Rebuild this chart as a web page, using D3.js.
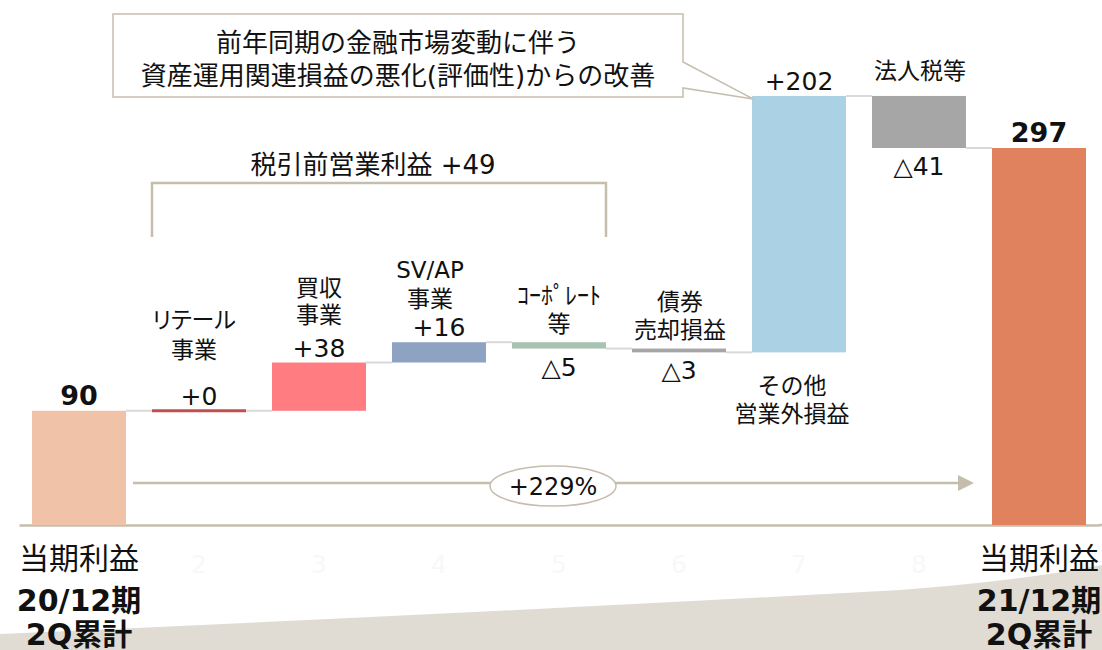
<!DOCTYPE html>
<html>
<head>
<meta charset="utf-8">
<script src="https://cdn.jsdelivr.net/npm/d3@7"></script>
<style>
  html, body { margin: 0; padding: 0; background: #fff; }
  svg { display: block; font-family: "DejaVu Sans", "Noto Sans CJK JP", sans-serif; }
</style>
</head>
<body>
<div id="waterfall"></div>
<script>
// --- data ---
var tickLabels = ["1", "2", "3", "4", "5", "6", "7", "8", "9"];
var barNames = [
    ["当期利益"],
    ["リテール", "事業"],
    ["買収", "事業"],
    ["SV/AP", "事業"],
    ["ｺｰﾎﾟﾚｰﾄ", "等"],
    ["債券", "売却損益"],
    ["その他", "営業外損益"],
    ["法人税等"],
    ["当期利益"]
];
var startPeriod = ["20/12期", "2Q累計"];
var endPeriod = ["21/12期", "2Q累計"];
var barValues = [90, 0, 38, 16, -5, -3, 202, -41, 297];
var barKinds = ["total", "delta", "delta", "delta", "delta", "delta", "delta", "delta", "total"];
var valueLabels = ["90", "+0", "+38", "+16", "△5", "△3", "+202", "△41", "297"];
var subtotalLabel = "税引前営業利益 +49";
var subtotalRange = [1, 4];
var calloutLines = ["前年同期の金融市場変動に伴う", "資産運用関連損益の悪化(評価性)からの改善"];
var growthLabel = "+229%";

// --- layout / style ---
var width = 1102, height = 650;
var baseY = 525;
var colors = ["#F0C2A7", "#C0504D", "#FF7C80", "#8EA3C2", "#A6C3B3", "#A6A6A6", "#ABD1E5", "#A6A6A6", "#E0825D"];
var tan = "#C6BEAD";
// first name line offset from bar top (or bottom for index 6), line height, x shift
var nameOffset = [null, -83, -67, -64, -38, -39, 42, -17, null];
var nameLineH = [0, 30, 27, 29, 28, 28, 28, 0, 0];
var nameDx = [0, -5, 0, -9, 0, 1, -7, 1, 0];

var svg = d3.select("#waterfall")
    .append("svg")
    .attr("width", width)
    .attr("height", height);

var x = d3.scaleBand()
    .domain(tickLabels)
    .range([19, 1099])
    .paddingInner(26 / 120)
    .paddingOuter(13 / 120);

var y = d3.scaleLinear()
    .domain([0, 297])
    .range([baseY, 148]);

// compute running totals
var bars = [];
var run = 0;
for (var i = 0; i < barValues.length; ++i) {
    var from, to;
    if (barKinds[i] == "total") {
        from = 0; to = barValues[i]; run = barValues[i];
    } else {
        from = run; to = run + barValues[i]; run = to;
    }
    bars.push({i: i, key: tickLabels[i], from: from, to: to, end: run, v: barValues[i]});
}

// bottom swoosh
svg.append("path")
    .attr("fill", "#E0DCD4")
    .attr("d", "M0,634 Q500,612 900,590 Q1020,581 1102,565 L1102,650 L0,650 Z");

// axis with faint tick labels (first and last sit under the period labels)
var xAxis = g => g
    .attr("transform", `translate(0,${baseY})`)
    .call(d3.axisBottom(x).tickSize(0).tickSizeOuter(0).tickPadding(30))
    .call(g => g.select(".domain").attr("stroke", tan).attr("stroke-width", 2.5))
    .call(g => g.selectAll(".tick")
        .filter((d, k) => k == 0 || k == tickLabels.length - 1).remove())
    .call(g => g.selectAll("text")
        .attr("fill", "#F8F8F8")
        .attr("font-size", 25)
        .attr("font-family", "DejaVu Sans"));

svg.append("g").call(xAxis);
svg.append("line")
    .attr("x1", 1099).attr("x2", width)
    .attr("y1", baseY).attr("y2", baseY)
    .attr("stroke", tan).attr("stroke-width", 2.5);

// connectors
svg.append("g")
    .selectAll("line")
    .data(bars.slice(0, -1))
    .join("line")
    .attr("x1", d => x(d.key) + x.bandwidth())
    .attr("x2", d => x(tickLabels[d.i + 1]))
    .attr("y1", d => y(d.end))
    .attr("y2", d => y(d.end))
    .attr("stroke", "#D9D9D9")
    .attr("stroke-width", 2);

// bars
svg.append("g")
    .selectAll("rect")
    .data(bars)
    .join("rect")
    .attr("x", d => x(d.key))
    .attr("width", x.bandwidth())
    .attr("y", d => {
        var h = Math.abs(y(d.from) - y(d.to));
        return h < 3 ? y(d.to) - 1.5 : y(Math.max(d.from, d.to));
    })
    .attr("height", d => Math.max(3, Math.abs(y(d.from) - y(d.to))))
    .attr("fill", d => colors[d.i]);

// value labels
svg.append("g")
    .selectAll("text")
    .data(bars)
    .join("text")
    .attr("x", d => x(d.key) + x.bandwidth() / 2)
    .attr("y", d => d.v >= 0 ? y(Math.max(d.from, d.to)) - 6 : y(Math.min(d.from, d.to)) + 27)
    .attr("text-anchor", "middle")
    .attr("font-size", d => barKinds[d.i] == "total" ? 27 : 25)
    .attr("font-weight", d => barKinds[d.i] == "total" ? "bold" : "normal")
    .attr("fill", "#111")
    .text(d => valueLabels[d.i]);

// name labels for deltas
bars.forEach(function(d) {
    if (nameOffset[d.i] == null) return;
    var anchor = d.i == 6 ? y(Math.min(d.from, d.to)) : y(Math.max(d.from, d.to));
    var t = svg.append("text")
        .attr("text-anchor", "middle")
        .attr("font-size", 23)
        .attr("fill", "#111");
    barNames[d.i].forEach(function(line, k) {
        t.append("tspan")
            .attr("x", x(d.key) + x.bandwidth() / 2 + nameDx[d.i])
            .attr("y", anchor + nameOffset[d.i] + k * nameLineH[d.i])
            .attr("font-size", (d.i == 4 && k == 0) ? 24 : null)
            .style("font-feature-settings", (d.i == 1 && k == 0) ? "'palt'" : null)
            .text(line);
    });
});

// bottom labels for the two totals
[[0, startPeriod], [8, endPeriod]].forEach(function(p) {
    var cx = x(tickLabels[p[0]]) + x.bandwidth() / 2;
    svg.append("text")
        .attr("x", cx).attr("y", 569)
        .attr("text-anchor", "middle")
        .attr("font-size", 30)
        .attr("fill", "#111")
        .text(barNames[p[0]][0]);
    p[1].forEach(function(line, k) {
        svg.append("text")
            .attr("x", cx).attr("y", 611 + k * 34)
            .attr("text-anchor", "middle")
            .attr("font-size", 30)
            .attr("font-weight", "bold")
            .attr("fill", "#111")
            .text(line);
    });
});

// subtotal bracket
var bx0 = x(tickLabels[subtotalRange[0]]);
var bx1 = x(tickLabels[subtotalRange[1]]) + x.bandwidth();
svg.append("path")
    .attr("fill", "none")
    .attr("stroke", tan)
    .attr("stroke-width", 2.5)
    .attr("d", `M${bx0},237 V183 H${bx1} V237`);
svg.append("text")
    .attr("x", (bx0 + bx1) / 2 - 6).attr("y", 174)
    .attr("text-anchor", "middle")
    .attr("font-size", 26)
    .attr("fill", "#111")
    .text(subtotalLabel);

// growth arrow
var ay = y(33);
var ax0 = x(tickLabels[0]) + x.bandwidth() + 7;
var ax1 = x(tickLabels[8]) - 18;
svg.append("line")
    .attr("x1", ax0).attr("x2", ax1 - 12)
    .attr("y1", ay).attr("y2", ay)
    .attr("stroke", tan).attr("stroke-width", 2.5);
svg.append("path")
    .attr("fill", tan)
    .attr("d", `M${ax1},${ay} L${ax1 - 16},${ay - 8} L${ax1 - 16},${ay + 8} Z`);
svg.append("ellipse")
    .attr("cx", 553).attr("cy", ay + 3)
    .attr("rx", 63).attr("ry", 20)
    .attr("fill", "#fff")
    .attr("stroke", tan).attr("stroke-width", 1.5);
svg.append("text")
    .attr("x", 553).attr("y", ay + 12)
    .attr("text-anchor", "middle")
    .attr("font-size", 24)
    .attr("fill", "#111")
    .text(growthLabel);

// callout box pointing at the +202 bar
var tipX = x(tickLabels[6]) + 1, tipY = y(bars[6].to) + 3;
svg.append("path")
    .attr("fill", "#fff")
    .attr("stroke", tan)
    .attr("stroke-width", 1.5)
    .attr("d", `M113,14 H683 V62 L${tipX},${tipY} L683,88 V97 H113 Z`);
calloutLines.forEach(function(line, k) {
    svg.append("text")
        .attr("x", 398).attr("y", 52 + k * 33)
        .attr("text-anchor", "middle")
        .attr("font-size", 26)
        .attr("fill", "#111")
        .text(line);
});
</script>
</body>
</html>
